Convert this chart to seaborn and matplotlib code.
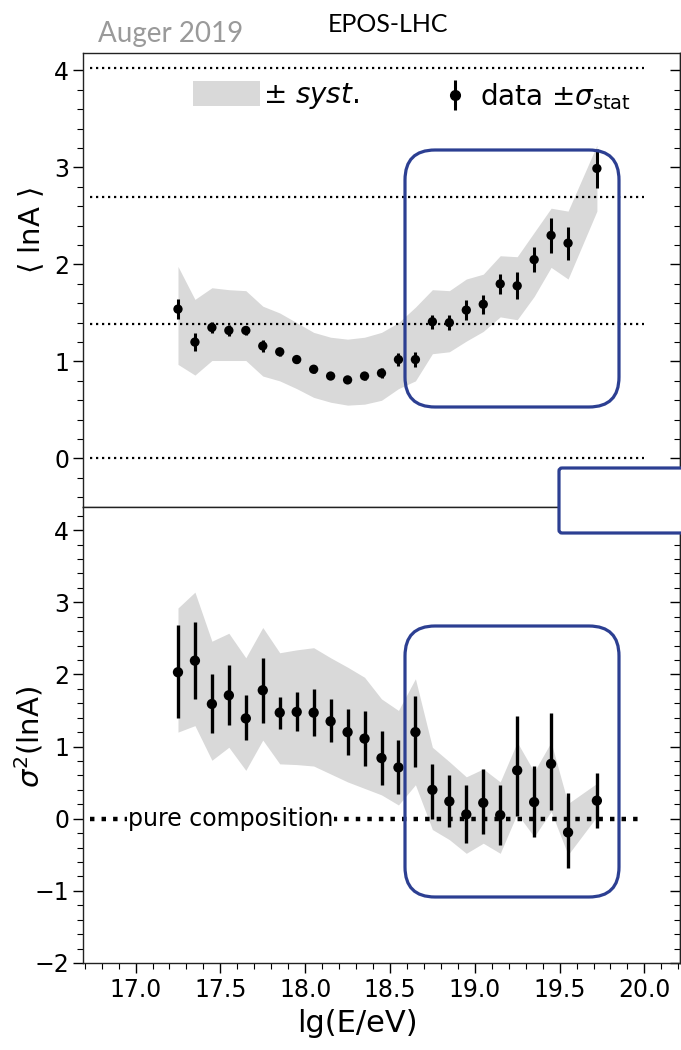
import numpy as np
import seaborn as sns
import matplotlib.pyplot as plt
from matplotlib.patches import FancyBboxPatch, Patch
from matplotlib.lines import Line2D
from matplotlib.ticker import MultipleLocator
from matplotlib.transforms import IdentityTransform

# energy bins lg(E/eV)
lgE = [17.25, 17.35, 17.45, 17.55, 17.65, 17.75, 17.85, 17.95, 18.05, 18.15,
       18.25, 18.35, 18.45, 18.55, 18.65, 18.75, 18.85, 18.95, 19.05, 19.15,
       19.25, 19.35, 19.45, 19.55, 19.72]

# <lnA>
lnA = [1.54, 1.20, 1.35, 1.32, 1.32, 1.16, 1.10, 1.02, 0.92, 0.85,
       0.81, 0.85, 0.88, 1.02, 1.02, 1.41, 1.40, 1.53, 1.59, 1.80,
       1.78, 2.05, 2.30, 2.22, 2.99]
lnA_err = [0.10, 0.09, 0.06, 0.06, 0.05, 0.06, 0.04, 0.04, 0.04, 0.03,
           0.03, 0.04, 0.05, 0.07, 0.08, 0.07, 0.08, 0.10, 0.10, 0.10,
           0.14, 0.13, 0.18, 0.17, 0.20]
lnA_sys_hi = [1.98, 1.64, 1.76, 1.74, 1.73, 1.57, 1.50, 1.40, 1.30, 1.25,
              1.23, 1.25, 1.30, 1.40, 1.56, 1.74, 1.73, 1.85, 1.90, 2.09,
              2.08, 2.33, 2.58, 2.55, 3.23]
lnA_sys_lo = [0.97, 0.86, 1.01, 1.01, 1.01, 0.85, 0.80, 0.72, 0.63, 0.58,
              0.55, 0.56, 0.60, 0.72, 0.80, 1.08, 1.10, 1.21, 1.31, 1.46,
              1.43, 1.67, 1.97, 1.85, 2.55]

# sigma^2(lnA)
var = [2.03, 2.19, 1.59, 1.71, 1.39, 1.78, 1.47, 1.48, 1.47, 1.35,
       1.20, 1.11, 0.84, 0.71, 1.20, 0.40, 0.24, 0.06, 0.22, 0.05,
       0.67, 0.23, 0.76, -0.19, 0.25]
var_lo = [1.39, 1.66, 1.19, 1.30, 1.09, 1.33, 1.25, 1.21, 1.14, 1.06,
          0.88, 0.73, 0.47, 0.34, 0.71, 0.00, -0.11, -0.33, -0.21, -0.36,
          0.04, -0.25, 0.12, -0.68, -0.13]
var_hi = [2.68, 2.73, 2.00, 2.13, 1.71, 2.23, 1.69, 1.75, 1.80, 1.66,
          1.52, 1.49, 1.21, 1.09, 1.70, 0.76, 0.60, 0.47, 0.69, 0.47,
          1.42, 0.73, 1.46, 0.35, 0.64]
var_sys_hi = [2.92, 3.14, 2.46, 2.57, 2.23, 2.65, 2.30, 2.34, 2.37, 2.23,
              2.10, 1.96, 1.66, 1.50, 1.94, 0.99, 0.79, 0.58, 0.69, 0.51,
              1.06, 0.65, 1.06, 0.21, 0.49]
var_sys_lo = [1.20, 1.29, 0.81, 0.99, 0.67, 1.09, 0.76, 0.75, 0.73, 0.62,
              0.51, 0.42, 0.33, 0.19, 0.47, -0.15, -0.29, -0.48, -0.34, -0.48,
              0.07, -0.25, 0.10, -0.50, 0.03]

# reference lines p, He, N, Fe
ref_lines = [0.0, 1.386, 2.70, 4.025]

sns.set_style("ticks")
plt.rcParams['font.family'] = ['DejaVu Sans']
plt.rcParams['mathtext.fontset'] = 'dejavusans'
for k in ('text.color', 'axes.labelcolor', 'xtick.color', 'ytick.color'):
    plt.rcParams[k] = 'black'

band_col = '#d9d9d9'
blue = '#2c3f92'

fig = plt.figure(figsize=(6.81, 10.5), dpi=100)
W, H = 681, 1050
x0, x1 = 83, 680
ax1 = fig.add_axes([x0 / W, 1 - 507 / H, (x1 - x0) / W, (507 - 53) / H])
ax2 = fig.add_axes([x0 / W, 1 - 963 / H, (x1 - x0) / W, (963 - 507) / H])

x = np.array(lgE)

# ---- top panel
ax1.fill_between(x, lnA_sys_lo, lnA_sys_hi, color=band_col, lw=0, zorder=1)
ax1.hlines(ref_lines, 16.73, 20.0, colors='k', linestyles=(0, (1, 1.7)), lw=1.6, zorder=2)
ax1.errorbar(x, lnA, yerr=lnA_err, fmt='none', ecolor='k', elinewidth=2.2, zorder=3)
sns.scatterplot(x=x, y=lnA, ax=ax1, color='k', s=45, edgecolor='none', zorder=4, legend=False)

# ---- bottom panel
ax2.fill_between(x, var_sys_lo, var_sys_hi, color=band_col, lw=0, zorder=1)
ax2.plot([16.73, 20.0], [0, 0], color='k', lw=3.2, ls=(0, (1, 1.6)), zorder=2)
yerr = [np.array(var) - np.array(var_lo), np.array(var_hi) - np.array(var)]
ax2.errorbar(x, var, yerr=yerr, fmt='none', ecolor='k', elinewidth=2.4, zorder=3)
sns.scatterplot(x=x, y=var, ax=ax2, color='k', s=55, edgecolor='none', zorder=4, legend=False)
ax2.text(16.955, 0, 'pure composition', fontsize=17, va='center', ha='left', zorder=5,
         bbox=dict(facecolor='white', edgecolor='none', pad=0.5))

for ax in (ax1, ax2):
    ax.set_xlim(16.69, 20.21)
    ax.yaxis.set_major_locator(MultipleLocator(1))
    ax.yaxis.set_minor_locator(MultipleLocator(0.2))
    ax.xaxis.set_major_locator(MultipleLocator(0.5))
    ax.xaxis.set_minor_locator(MultipleLocator(0.1))
    ax.tick_params(axis='y', which='major', direction='out', length=7, width=1,
                   labelsize=17, pad=3)
    ax.tick_params(axis='y', which='minor', direction='out', length=4, width=0.8)
    for s in ax.spines.values():
        s.set_linewidth(1.0)
        s.set_color('#222222')
    sec = ax.secondary_yaxis('right')
    sec.yaxis.set_major_locator(MultipleLocator(1))
    sec.yaxis.set_minor_locator(MultipleLocator(0.2))
    sec.tick_params(which='major', direction='in', length=7, width=1, labelright=False)
    sec.tick_params(which='minor', direction='in', length=4, width=0.8)
    sec.spines['right'].set_linewidth(1.0)

ax1.set_ylim(-0.5, 4.18)
ax2.set_ylim(-2.0, 4.32)
ax1.tick_params(axis='x', which='both', bottom=False, labelbottom=False)
ax2.tick_params(axis='x', which='major', direction='out', length=7, width=1,
                labelsize=17, pad=4)
ax2.tick_params(axis='x', which='minor', direction='out', length=4, width=0.8)
ax1.set_xlabel('')
ax2.set_xticks([17.0, 17.5, 18.0, 18.5, 19.0, 19.5, 20.0])

ax1.set_ylabel(r'$\langle$ lnA $\rangle$', fontsize=21)
ax1.yaxis.set_label_coords(-0.062, 0.61)
ax2.set_ylabel(r'$\sigma^2$(lnA)', fontsize=21)
ax2.yaxis.set_label_coords(-0.062, 0.497)
ax2.set_xlabel('lg(E/eV)', fontsize=22)
ax2.xaxis.set_label_coords(0.459, -0.1)

# legends
leg1 = ax1.legend([Patch(facecolor=band_col, edgecolor='none')], [r'$\pm$ $\mathit{syst.}$'],
                  loc='center left', bbox_to_anchor=(0.185, 0.905), frameon=False,
                  fontsize=20, handlelength=2.4, handleheight=1.0, handletextpad=0.1,
                  borderpad=0, borderaxespad=0)
ax1.add_artist(leg1)
dot = Line2D([], [], marker='o', color='k', ls='none', markersize=7)
bar = Line2D([], [], marker='|', color='k', ls='none', markersize=22, markeredgewidth=2.2)
ax1.legend([(bar, dot)], [r'data $\pm\sigma_{\rm stat}$'],
           loc='center left', bbox_to_anchor=(0.6, 0.905), frameon=False,
           fontsize=20, handlelength=1.0, handletextpad=0.4, borderpad=0, borderaxespad=0)

# annotations
fig.text(388 / W, 1 - 32 / H, 'EPOS-LHC', fontsize=18, family=['Lato', 'DejaVu Sans'],
         ha='center', va='baseline')
fig.text(98 / W, 1 - 42 / H, 'Auger 2019', fontsize=20, family=['Lato', 'DejaVu Sans'],
         color='#9a9a9a', ha='left', va='baseline')

tr = IdentityTransform()
for (l, r, t, b) in [(405, 619, 150, 407), (405, 619, 626, 897)]:
    fig.add_artist(FancyBboxPatch((l, H - b), r - l, b - t, transform=tr,
                                  boxstyle='round,pad=0,rounding_size=30',
                                  facecolor='none', edgecolor=blue, lw=2.3, zorder=10))
fig.add_artist(FancyBboxPatch((559, H - 533), 160, 65, transform=tr,
                              boxstyle='round,pad=0,rounding_size=3',
                              facecolor='white', edgecolor=blue, lw=2.3, zorder=10))

fig.savefig('out.png', dpi=100)
